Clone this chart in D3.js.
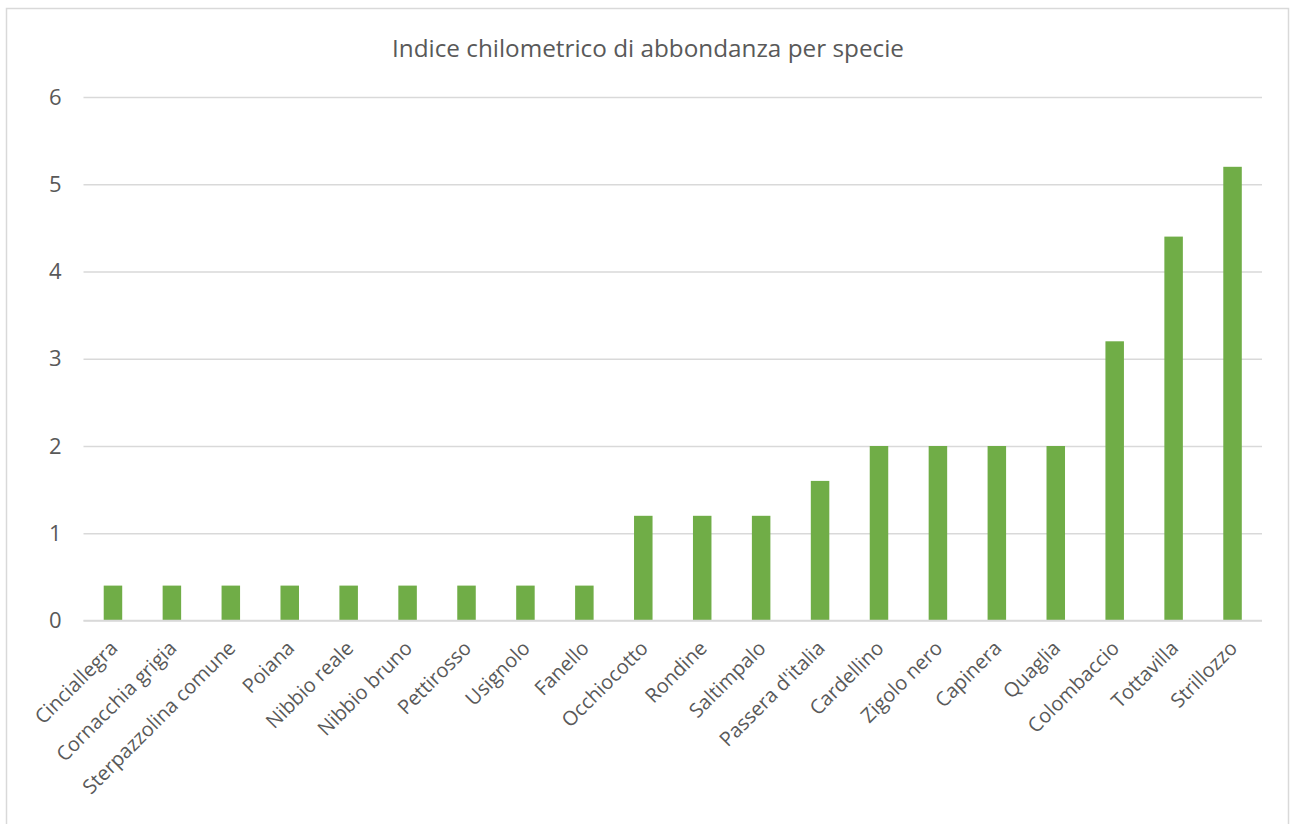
<!DOCTYPE html>
<html>
<head>
<meta charset="utf-8">
<script src="https://cdn.jsdelivr.net/npm/d3@7"></script>
<style>
  html, body { margin: 0; padding: 0; background: #fff; }
  svg { display: block; }
</style>
</head>
<body>
<svg id="chart" width="1291" height="824"></svg>
<script>
// Kilometric abundance index per species
const species = [
  "Cinciallegra", "Cornacchia grigia", "Sterpazzolina comune", "Poiana",
  "Nibbio reale", "Nibbio bruno", "Pettirosso", "Usignolo", "Fanello",
  "Occhiocotto", "Rondine", "Saltimpalo", "Passera d'italia", "Cardellino",
  "Zigolo nero", "Capinera", "Quaglia", "Colombaccio", "Tottavilla", "Strillozzo"
];
const abundance = [
  0.4, 0.4, 0.4, 0.4, 0.4, 0.4, 0.4, 0.4, 0.4,
  1.2, 1.2, 1.2, 1.6, 2, 2, 2, 2, 3.2, 4.4, 5.2
];
const yTicks = [0, 1, 2, 3, 4, 5, 6];
const title = "Indice chilometrico di abbondanza per specie";

const font = "'Open Sans', sans-serif";
const textColor = "#595959";
const gridColor = "#D9D9D9";
const barColor = "#70AD47";

const svg = d3.select("#chart");

// outer chart frame
svg.append("rect")
  .attr("x", 6.5).attr("y", 8.5)
  .attr("width", 1282).attr("height", 830)
  .attr("fill", "#fff")
  .attr("stroke", gridColor).attr("stroke-width", 1.5);

const plot = { left: 83.5, right: 1262, top: 97, bottom: 620.5 };

const x = d3.scaleBand()
  .domain(species)
  .range([plot.left, plot.right])
  .paddingInner(0.686)
  .paddingOuter(0.343);

const y = d3.scaleLinear()
  .domain([0, 6])
  .range([plot.bottom, plot.top]);

// horizontal gridlines
const yAxis = d3.axisLeft(y)
  .tickValues(yTicks)
  .tickSize(-(plot.right - plot.left))
  .tickPadding(22)
  .tickFormat(d3.format("d"));

const gy = svg.append("g")
  .attr("transform", `translate(${plot.left},0)`)
  .call(yAxis);
gy.select(".domain").remove();
gy.selectAll(".tick line")
  .attr("stroke", gridColor).attr("stroke-width", 1.3);
gy.selectAll(".tick text")
  .attr("fill", textColor)
  .style("font-family", font)
  .style("font-size", "22px");

// bars
svg.append("g").selectAll("rect")
  .data(abundance)
  .join("rect")
  .attr("x", (d, i) => x(species[i]))
  .attr("width", x.bandwidth())
  .attr("y", d => y(d))
  .attr("height", d => y(0) - y(d))
  .attr("fill", barColor);

// category axis baseline
svg.append("line")
  .attr("x1", plot.left).attr("x2", plot.right)
  .attr("y1", y(0)).attr("y2", y(0))
  .attr("stroke", gridColor).attr("stroke-width", 1.5);

// rotated category labels
svg.append("g").selectAll("text")
  .data(species)
  .join("text")
  .attr("transform", d => `translate(${x(d) + x.bandwidth() / 2 + 1},${plot.bottom + 24}) rotate(-45)`)
  .attr("text-anchor", "end")
  .attr("dy", "0.35em")
  .attr("fill", textColor)
  .style("font-family", font)
  .style("font-size", "20px")
  .text(d => d);

// title
svg.append("text")
  .attr("x", 648)
  .attr("y", 56.5)
  .attr("text-anchor", "middle")
  .attr("fill", textColor)
  .style("font-family", font)
  .style("font-size", "24.3px")
  .text(title);
</script>
</body>
</html>
